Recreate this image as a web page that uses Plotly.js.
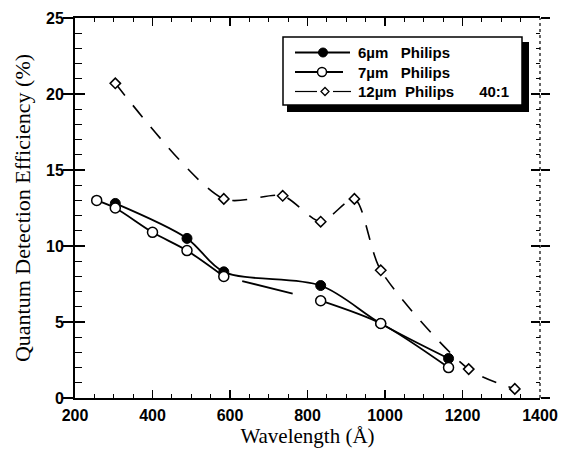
<!DOCTYPE html>
<html>
<head>
<meta charset="utf-8">
<script src="https://cdn.plot.ly/plotly-3.0.1.min.js"></script>
<style>
  html, body { margin: 0; padding: 0; background: #fff; }
  #chart { width: 571px; height: 459px; }
</style>
</head>
<body>
<div id="chart"></div>
<script>
// ---- data ----
const wavelength6 = [304, 489, 584, 834, 989, 1164];
const qde6 = [12.8, 10.5, 8.3, 7.4, 4.9, 2.6];

const wavelength7 = [256, 304, 400, 489, 584, 834, 989, 1164];
const qde7 = [13.0, 12.5, 10.9, 9.7, 8.0, 6.4, 4.9, 2.0];

const wavelength12 = [304, 584, 736, 834, 921, 989, 1216, 1335];
const qde12 = [20.7, 13.1, 13.3, 11.6, 13.1, 8.4, 1.9, 0.6];

const legendNames = ["6\u00b5m\u00a0\u00a0\u00a0Philips",
                     "7\u00b5m\u00a0\u00a0\u00a0Philips",
                     "12\u00b5m\u00a0\u00a0Philips\u00a0\u00a0\u00a0\u00a0\u00a0\u00a040:1"];
const xTickVals = [200, 400, 600, 800, 1000, 1200, 1400];
const yTickVals = [0, 5, 10, 15, 20, 25];

// 7um curve: solid up to 584, a single dash between 584 and 834, solid after
const i584 = wavelength7.indexOf(584);
const i834 = wavelength7.indexOf(834);

const traces = [
  {
    x: wavelength12, y: qde12, name: legendNames[2], type: 'scatter', mode: 'lines+markers',
    line: {color: '#000', width: 1.6, dash: '15px,13px', shape: 'spline', smoothing: 0.75},
    marker: {symbol: 'diamond', size: 8, color: '#fff', line: {color: '#000', width: 1.5}}
  },
  {
    x: wavelength7.slice(0, i584 + 1), y: qde7.slice(0, i584 + 1), type: 'scatter', mode: 'lines',
    line: {color: '#000', width: 1.8, shape: 'spline', smoothing: 0.8}
  },
  {
    x: wavelength7.slice(i584, i834 + 1), y: qde7.slice(i584, i834 + 1), type: 'scatter', mode: 'lines',
    line: {color: '#000', width: 1.8, dash: '0px,19px,52px,300px'}
  },
  {
    x: wavelength7.slice(i834), y: qde7.slice(i834), type: 'scatter', mode: 'lines',
    line: {color: '#000', width: 1.8, shape: 'spline', smoothing: 0.8}
  },
  {
    x: wavelength6, y: qde6, name: legendNames[0], type: 'scatter', mode: 'lines+markers',
    line: {color: '#000', width: 1.8, shape: 'spline', smoothing: 0.9},
    marker: {symbol: 'circle', size: 10, color: '#000', line: {color: '#000', width: 1}}
  },
  {
    x: wavelength7, y: qde7, name: legendNames[1], type: 'scatter', mode: 'markers',
    marker: {symbol: 'circle', size: 10, color: '#fff', line: {color: '#000', width: 1.5}}
  },
  // empty traces that carry the extra tick axes
  {x: [], y: [], yaxis: 'y2', type: 'scatter', mode: 'markers'},
  {x: [], y: [], yaxis: 'y3', type: 'scatter', mode: 'markers'},
  {x: [], y: [], yaxis: 'y4', type: 'scatter', mode: 'markers'}
];
traces.forEach(t => { t.showlegend = false; t.hoverinfo = 'skip'; });

const sansBold = {family: 'Liberation Sans, Arial, sans-serif', size: 16, color: '#000', weight: 700};
const titleFontX = {family: 'Liberation Serif, Times New Roman, serif', size: 21, color: '#000'};
const titleFontY = {family: 'Liberation Serif, Times New Roman, serif', size: 22, color: '#000'};

const px2x = p => (p - 75) / 465;
const px2y = p => (398 - p) / 380;

// hand-built legend (box with drop shadow, symbols, labels)
const legendFontSize = 15;
const rowGap = legendFontSize * 1.3;
const rowY = [72 - rowGap, 72, 72 + rowGap];
const shapes = [
  {type: 'line', xref: 'paper', yref: 'paper', x0: 1, x1: 1, y0: 0, y1: 1,
   line: {color: '#000', width: 1.2, dash: 'dot'}},
  {type: 'rect', xref: 'paper', yref: 'paper', x0: px2x(287), x1: px2x(529), y0: px2y(112), y1: px2y(42),
   fillcolor: '#000', line: {color: '#000', width: 0}, layer: 'above'},
  {type: 'rect', xref: 'paper', yref: 'paper', x0: px2x(283), x1: px2x(522), y0: px2y(105), y1: px2y(37),
   fillcolor: '#fff', line: {color: '#000', width: 1.5}, layer: 'above'},
  // row 1: line + filled circle
  {type: 'line', xref: 'paper', yref: 'paper', x0: px2x(295), x1: px2x(350), y0: px2y(rowY[0]), y1: px2y(rowY[0]),
   line: {color: '#000', width: 2}, layer: 'above'},
  {type: 'circle', xref: 'paper', yref: 'paper', x0: px2x(318.5), x1: px2x(327.5), y0: px2y(rowY[0] + 4.5), y1: px2y(rowY[0] - 4.5),
   fillcolor: '#000', line: {color: '#000', width: 1}, layer: 'above'},
  // row 2: line + open circle
  {type: 'line', xref: 'paper', yref: 'paper', x0: px2x(295), x1: px2x(343), y0: px2y(rowY[1]), y1: px2y(rowY[1]),
   line: {color: '#000', width: 2}, layer: 'above'},
  {type: 'circle', xref: 'paper', yref: 'paper', x0: px2x(317.5), x1: px2x(326.5), y0: px2y(rowY[1] + 4.5), y1: px2y(rowY[1] - 4.5),
   fillcolor: '#fff', line: {color: '#000', width: 1.5}, layer: 'above'},
  // row 3: broken thin line + diamond
  {type: 'line', xref: 'paper', yref: 'paper', x0: px2x(295), x1: px2x(317), y0: px2y(rowY[2]), y1: px2y(rowY[2]),
   line: {color: '#000', width: 1.2}, layer: 'above'},
  {type: 'line', xref: 'paper', yref: 'paper', x0: px2x(333), x1: px2x(351), y0: px2y(rowY[2]), y1: px2y(rowY[2]),
   line: {color: '#000', width: 1.2}, layer: 'above'},
  {type: 'path', xref: 'paper', yref: 'paper', layer: 'above',
   path: 'M ' + px2x(321) + ' ' + px2y(rowY[2]) + ' L ' + px2x(325) + ' ' + px2y(rowY[2] - 4) +
         ' L ' + px2x(329) + ' ' + px2y(rowY[2]) + ' L ' + px2x(325) + ' ' + px2y(rowY[2] + 4) + ' Z',
   fillcolor: '#fff', line: {color: '#000', width: 1.3}}
];

const annotations = [{
  xref: 'paper', yref: 'paper', x: px2x(356), y: px2y(72), xanchor: 'left', yanchor: 'middle', align: 'left',
  text: legendNames.join('<br>'), showarrow: false,
  font: {family: 'Liberation Sans, Arial, sans-serif', size: legendFontSize, color: '#000', weight: 700}
}];

const layout = {
  width: 571, height: 459,
  margin: {l: 75, r: 31, t: 18, b: 61},
  paper_bgcolor: '#fff', plot_bgcolor: '#fff',
  showlegend: false,
  xaxis: {
    range: [200, 1400], tickvals: xTickVals, ticktext: xTickVals.map(String),
    showline: true, linecolor: '#000', linewidth: 2, mirror: 'ticks',
    ticks: 'inside', ticklen: 8, tickwidth: 1.5, tickcolor: '#000',
    minor: {dtick: 50, ticks: 'inside', ticklen: 4, tickwidth: 1, tickcolor: '#000'},
    showgrid: false, zeroline: false, tickfont: sansBold, ticklabelstandoff: 2,
    title: {text: 'Wavelength (\u00c5)', font: titleFontX, standoff: 1}
  },
  yaxis: {
    range: [0, 25], tickvals: yTickVals, ticktext: yTickVals.map(String),
    showline: true, linecolor: '#000', linewidth: 2, mirror: false,
    ticks: 'inside', ticklen: 10, tickwidth: 1.5, tickcolor: '#000',
    minor: {dtick: 1, ticks: 'inside', ticklen: 7, tickwidth: 1, tickcolor: '#000'},
    showgrid: false, zeroline: false, tickfont: sansBold, ticklabelstandoff: 6,
    title: {text: 'Quantum Detection Efficiency (%)', font: titleFontY, standoff: 9}
  },
  yaxis2: {
    overlaying: 'y', side: 'left', range: [0, 25], tickvals: yTickVals,
    ticks: 'outside', ticklen: 11, tickwidth: 1.5, tickcolor: '#000',
    showticklabels: false, showline: false, showgrid: false, zeroline: false
  },
  yaxis3: {
    overlaying: 'y', side: 'right', range: [0, 25], tickvals: yTickVals,
    ticks: 'inside', ticklen: 9, tickwidth: 1.5, tickcolor: '#000',
    minor: {dtick: 1, ticks: 'inside', ticklen: 4, tickwidth: 1, tickcolor: '#000'},
    showticklabels: false, showline: false, showgrid: false, zeroline: false
  },
  yaxis4: {
    overlaying: 'y', side: 'right', range: [0, 25], tickvals: yTickVals,
    ticks: 'outside', ticklen: 9, tickwidth: 1.5, tickcolor: '#000',
    showticklabels: false, showline: false, showgrid: false, zeroline: false
  },
  shapes: shapes,
  annotations: annotations
};

Plotly.newPlot('chart', traces, layout, {staticPlot: true, displayModeBar: false});
</script>
</body>
</html>
